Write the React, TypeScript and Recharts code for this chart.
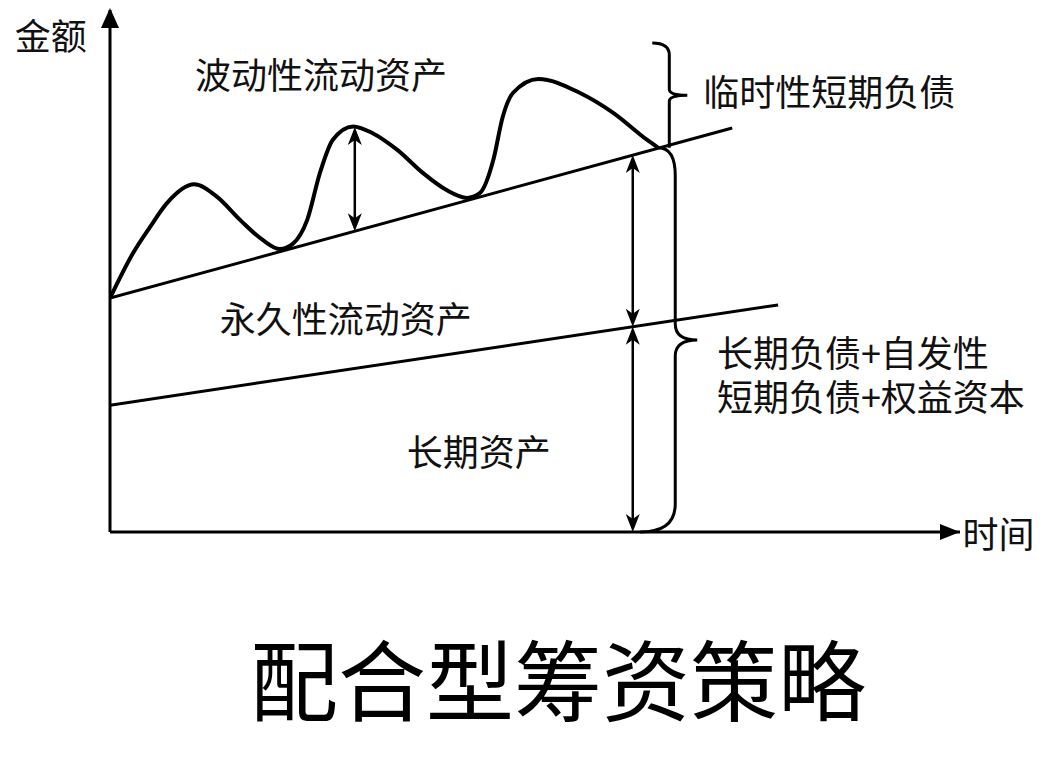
import React from 'react';
import { ComposedChart, Line, XAxis, YAxis, ReferenceLine, ReferenceDot } from 'recharts';

// 波动性流动资产 curve (time, amount)
const waveTime = [0, 2.7, 4.7, 6.7, 9.9, 12.6, 15.3, 18.0, 20.0, 21.5, 23.2, 24.7, 26.2, 28.6, 30.9, 33.8, 36.8, 39.6, 42.0, 43.5, 45.1, 46.2, 47.4, 50.4, 55.3, 59.2, 63.2, 64.5];
const waveValue = [44.8, 53.4, 58.4, 63.0, 66.6, 64.2, 59.8, 55.9, 54.2, 55.2, 59.8, 68.8, 75.1, 77.7, 76.4, 73.2, 68.8, 65.5, 64.0, 64.9, 71.3, 79.5, 84.1, 86.8, 84.1, 80.3, 75.1, 73.6];

// 永久性流动资产 top line
const permanentTime = [0, 73.2];
const permanentValue = [44.8, 77.4];

// 长期资产 top line
const longTermTime = [0, 78.6];
const longTermValue = [24.3, 43.5];

// double arrows: x, top, bottom
const arrowTime = [28.8, 61.5, 61.5];
const arrowTop = [77.6, 72.2, 39.3];
const arrowBottom = [57.6, 39.3, 0];

// braces: x, top, bottom
const braceTime = [65.8, 66.5];
const braceTop = [93.7, 73.6];
const braceBottom = [73.6, 0];

// text labels (multi-line labels split by \n)
const labelText = ['金额', '波动性流动资产', '临时性短期负债', '永久性流动资产', '长期资产', '长期负债+自发性\n短期负债+权益资本', '时间'];
const labelTime = [-11.2, 10, 69.8, 12.9, 34.9, 71.4, 100.3];
const labelValue = [95.4, 87.9, 84.7, 41.2, 15.7, 34.7, 0];

const toRows = (t: number[], v: number[]) => t.map((x, i) => ({ t: x, v: v[i] }));
const waveData = toRows(waveTime, waveValue);
const permanentData = toRows(permanentTime, permanentValue);
const longTermData = toRows(longTermTime, longTermValue);

const FONT = '"Noto Sans CJK SC", "Noto Sans", sans-serif';

const DoubleArrow = (p: any) => {
  const x = p.x1;
  const top = Math.min(p.y1, p.y2);
  const bot = Math.max(p.y1, p.y2);
  const h = 18;
  const w = 7;
  return (
    <g>
      <line x1={x} y1={top + 4} x2={x} y2={bot - 4} stroke="#000" strokeWidth={2.5} />
      <polygon points={`${x},${top} ${x - w},${top + h} ${x},${top + h - 5} ${x + w},${top + h}`} fill="#000" />
      <polygon points={`${x},${bot} ${x - w},${bot - h} ${x},${bot - h + 5} ${x + w},${bot - h}`} fill="#000" />
    </g>
  );
};

const SmallBrace = (p: any) => {
  const x = p.x1;
  const top = Math.min(p.y1, p.y2);
  const bot = Math.max(p.y1, p.y2);
  const mid = (top + bot) / 2;
  const d = `M${x - 17},${top} Q${x},${top} ${x},${top + 12} L${x},${mid - 6} Q${x},${mid} ${x + 18},${mid} Q${x},${mid} ${x},${mid + 6} L${x},${bot}`;
  return <path d={d} fill="none" stroke="#000" strokeWidth={3} />;
};

const BigBrace = (p: any) => {
  const x = p.x1;
  const top = Math.min(p.y1, p.y2);
  const bot = Math.max(p.y1, p.y2);
  const mid = (top + bot) / 2;
  const d = `M${x - 17},${top} Q${x},${top} ${x},${top + 28} L${x},${mid - 16} Q${x},${mid} ${x + 22},${mid} Q${x},${mid} ${x},${mid + 16} L${x},${bot - 28} Q${x},${bot} ${x - 35},${bot}`;
  return <path d={d} fill="none" stroke="#000" strokeWidth={3} />;
};

const textShape = (text: string) => (p: any) => (
  <text x={p.cx} y={p.cy} dominantBaseline="central" textAnchor="start" fontSize={36} fontFamily={FONT} fill="#111">
    {text.split('\n').map((line, i) => (
      <tspan key={i} x={p.cx} dy={i === 0 ? 0 : 44}>{line}</tspan>
    ))}
  </text>
);

const upHead = (p: any) => (
  <polygon points={`${p.cx},${p.cy - 2} ${p.cx - 9},${p.cy + 18} ${p.cx + 9},${p.cy + 18}`} fill="#000" />
);
const rightHead = (p: any) => (
  <polygon points={`${p.cx},${p.cy} ${p.cx - 20},${p.cy - 8} ${p.cx - 20},${p.cy + 8}`} fill="#000" />
);

export default function App() {
  return (
    <div style={{ position: 'absolute', left: 0, top: 0, width: 1060, height: 772, background: '#fff' }}>
      <ComposedChart width={1060} height={772} margin={{ top: 10, right: 100, bottom: 210, left: 50 }}>
        <XAxis type="number" dataKey="t" domain={[0, 100]} height={30} tick={false} tickLine={false} axisLine={{ stroke: '#000', strokeWidth: 3 }} allowDataOverflow />
        <YAxis type="number" dataKey="v" domain={[0, 100]} width={60} tick={false} tickLine={false} axisLine={{ stroke: '#000', strokeWidth: 3 }} allowDataOverflow />

        <Line data={longTermData} dataKey="v" type="linear" stroke="#000" strokeWidth={3} dot={false} isAnimationActive={false} />
        <Line data={permanentData} dataKey="v" type="linear" stroke="#000" strokeWidth={3} dot={false} isAnimationActive={false} />
        <Line data={waveData} dataKey="v" type="monotone" stroke="#000" strokeWidth={4} dot={false} isAnimationActive={false} />

        {arrowTime.map((t, i) => (
          <ReferenceLine key={`a${i}`} segment={[{ x: t, y: arrowTop[i] }, { x: t, y: arrowBottom[i] }]} shape={DoubleArrow} ifOverflow="visible" />
        ))}
        <ReferenceLine segment={[{ x: braceTime[0], y: braceTop[0] }, { x: braceTime[0], y: braceBottom[0] }]} shape={SmallBrace} ifOverflow="visible" />
        <ReferenceLine segment={[{ x: braceTime[1], y: braceTop[1] }, { x: braceTime[1], y: braceBottom[1] }]} shape={BigBrace} ifOverflow="visible" />

        <ReferenceDot x={0} y={100} shape={upHead} ifOverflow="visible" />
        <ReferenceDot x={100} y={0} shape={rightHead} ifOverflow="visible" />

        {labelText.map((s, i) => (
          <ReferenceDot key={`l${i}`} x={labelTime[i]} y={labelValue[i]} shape={textShape(s)} ifOverflow="visible" />
        ))}
      </ComposedChart>
      <svg width={1060} height={772} style={{ position: 'absolute', left: 0, top: 0, pointerEvents: 'none' }}>
        <text x={558} y={714} textAnchor="middle" fontSize={88} fontFamily={FONT} fill="#000">配合型筹资策略</text>
      </svg>
    </div>
  );
}
